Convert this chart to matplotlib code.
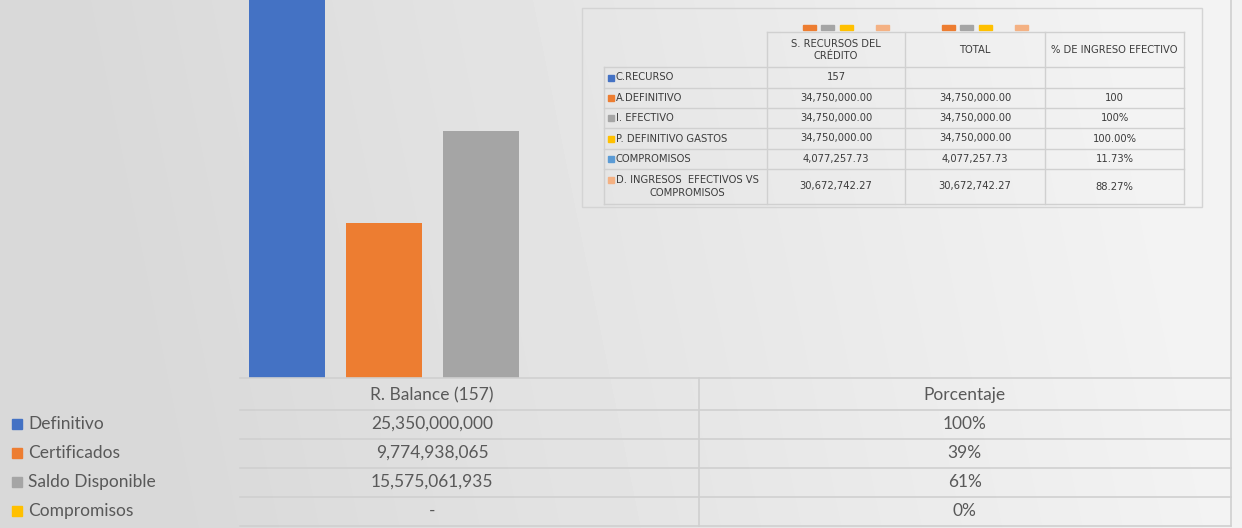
import matplotlib.pyplot as plt
import matplotlib.transforms as mtransforms
from matplotlib.patches import Rectangle
import numpy as np

plt.rcParams['font.family'] = ['Lato', 'DejaVu Sans']

# datos del grafico principal
series = ["Definitivo", "Certificados", "Saldo Disponible", "Compromisos"]
series_colors = ["#4472c4", "#ed7d31", "#a5a5a5", "#ffc000"]
categories = ["R. Balance (157)", "Porcentaje"]
balance = [25350000000, 9774938065, 15575061935, 0]
porcentaje = [1.00, 0.39, 0.61, 0.00]
balance_text = ["25,350,000,000", "9,774,938,065", "15,575,061,935", "-"]
porcentaje_text = ["100%", "39%", "61%", "0%"]

# tabla pegada arriba a la derecha
inset_labels = ["C.RECURSO", "A.DEFINITIVO", "I. EFECTIVO", "P. DEFINITIVO GASTOS",
                "COMPROMISOS", "D. INGRESOS  EFECTIVOS VS\nCOMPROMISOS"]
inset_colors = ["#4472c4", "#ed7d31", "#a5a5a5", "#ffc000", "#5b9bd5", "#f4b183"]
inset_headers = ["S. RECURSOS DEL\nCRÉDITO", "TOTAL", "% DE INGRESO EFECTIVO"]
inset_recursos = ["157", "34,750,000.00", "34,750,000.00", "34,750,000.00",
                  "4,077,257.73", "30,672,742.27"]
inset_total = ["", "34,750,000.00", "34,750,000.00", "34,750,000.00",
               "4,077,257.73", "30,672,742.27"]
inset_pct = ["", "100", "100%", "100.00%", "11.73%", "88.27%"]

W, H = 1242, 528
fig = plt.figure(figsize=(W / 100, H / 100), dpi=100)

# fondo degradado
bg = fig.add_axes([0, 0, 1, 1], zorder=0)
yy, xx = np.mgrid[0:H, 0:W]
t = np.clip((xx / W * 0.92 + (1 - yy / H) * 0.08 - 0.12) / 0.8, 0, 1)
grad = 0.848 + 0.105 * t
bg.imshow(grad, cmap="gray", vmin=0, vmax=1, extent=(0, W, H, 0), aspect="auto")
bg.set_xlim(0, W)
bg.set_ylim(H, 0)
bg.axis("off")

# barras
ax = fig.add_axes([166 / W, (H - 378) / H, (1231 - 166) / W, 378 / H], zorder=1)
ax.patch.set_alpha(0)
x = np.arange(len(categories))
width = 0.143
step = 0.182
for i, name in enumerate(series):
    vals = [balance[i], porcentaje[i]]
    ax.bar(x + (i - 1.5) * step, vals, width, color=series_colors[i], label=name)
ax.set_xlim(-0.5, 1.5)
ax.set_ylim(0, 23.85e9)
ax.axis("off")

# capa para tablas
ov = fig.add_axes([0, 0, 1, 1], zorder=2)
ov.patch.set_alpha(0)
ov.set_xlim(0, W)
ov.set_ylim(H, 0)
ov.axis("off")
trans = mtransforms.blended_transform_factory(ax.transData, ov.transData)

line_c = "#d0d0d0"
txt_c = "#595959"

# tabla de datos inferior
row_lines = [378, 409.5, 438.5, 467.5, 496.5, 526]
for y in row_lines:
    ov.plot([240, 1231], [y, y], color=line_c, lw=1.2)
ov.plot([0.5, 0.5], [378, 526], color=line_c, lw=1.2, transform=trans)
ov.plot([1231, 1231], [0, 526], color=line_c, lw=1.2)

ov.text(0, 395, categories[0], transform=trans, ha="center", va="center",
        fontsize=12.5, color=txt_c)
ov.text(1, 395, categories[1], transform=trans, ha="center", va="center",
        fontsize=12.5, color=txt_c)
row_y = [424, 453, 482, 511]
for i, name in enumerate(series):
    yc = row_y[i]
    ov.add_patch(Rectangle((12, yc - 5), 10, 10, color=series_colors[i]))
    ov.text(28, yc, name, ha="left", va="center", fontsize=12.5, color=txt_c)
    ov.text(0, yc, balance_text[i], transform=trans, ha="center", va="center",
            fontsize=12.5, color=txt_c)
    ov.text(1, yc, porcentaje_text[i], transform=trans, ha="center", va="center",
            fontsize=12.5, color=txt_c)

# tabla insertada
ov.add_patch(Rectangle((582, 8), 620, 199, fill=False, edgecolor="#d4d4d4", lw=1))
col_edges = [767, 905, 1045, 1184]
lab_left = 604
tab_rows = [67, 88, 108, 128, 149, 169, 204]
ov.plot([col_edges[0], col_edges[-1]], [32, 32], color=line_c, lw=1)
for y in tab_rows:
    ov.plot([lab_left, col_edges[-1]], [y, y], color=line_c, lw=1)
ov.plot([lab_left, lab_left], [67, 204], color=line_c, lw=1)
for xe in col_edges:
    ov.plot([xe, xe], [32, 204], color=line_c, lw=1)

tfont = dict(family="DejaVu Sans", fontsize=7.2, color="#3c3c3c")
col_cent = [(col_edges[j] + col_edges[j + 1]) / 2 for j in range(3)]
for j, hdr in enumerate(inset_headers):
    ov.text(col_cent[j], 50, hdr, ha="center", va="center", linespacing=1.3, **tfont)

for i, lab in enumerate(inset_labels):
    yc = (tab_rows[i] + tab_rows[i + 1]) / 2
    ly = yc - 7 if "\n" in lab else yc
    ov.add_patch(Rectangle((608, ly - 3), 6, 6, color=inset_colors[i]))
    ov.text(616, yc, lab, ha="left", va="center", linespacing=1.45,
            multialignment="center", **tfont)
    for j, col in enumerate([inset_recursos, inset_total, inset_pct]):
        ov.text(col_cent[j], yc, col[i], ha="center", va="center", **tfont)

# marcas de leyenda sueltas encima de la tabla
for x0 in [803, 942]:
    for idx in [1, 2, 3, 5]:
        ov.add_patch(Rectangle((x0 + (idx - 1) * 18.3, 25), 13, 5,
                               color=inset_colors[idx]))

fig.savefig("out.png", dpi=100)
